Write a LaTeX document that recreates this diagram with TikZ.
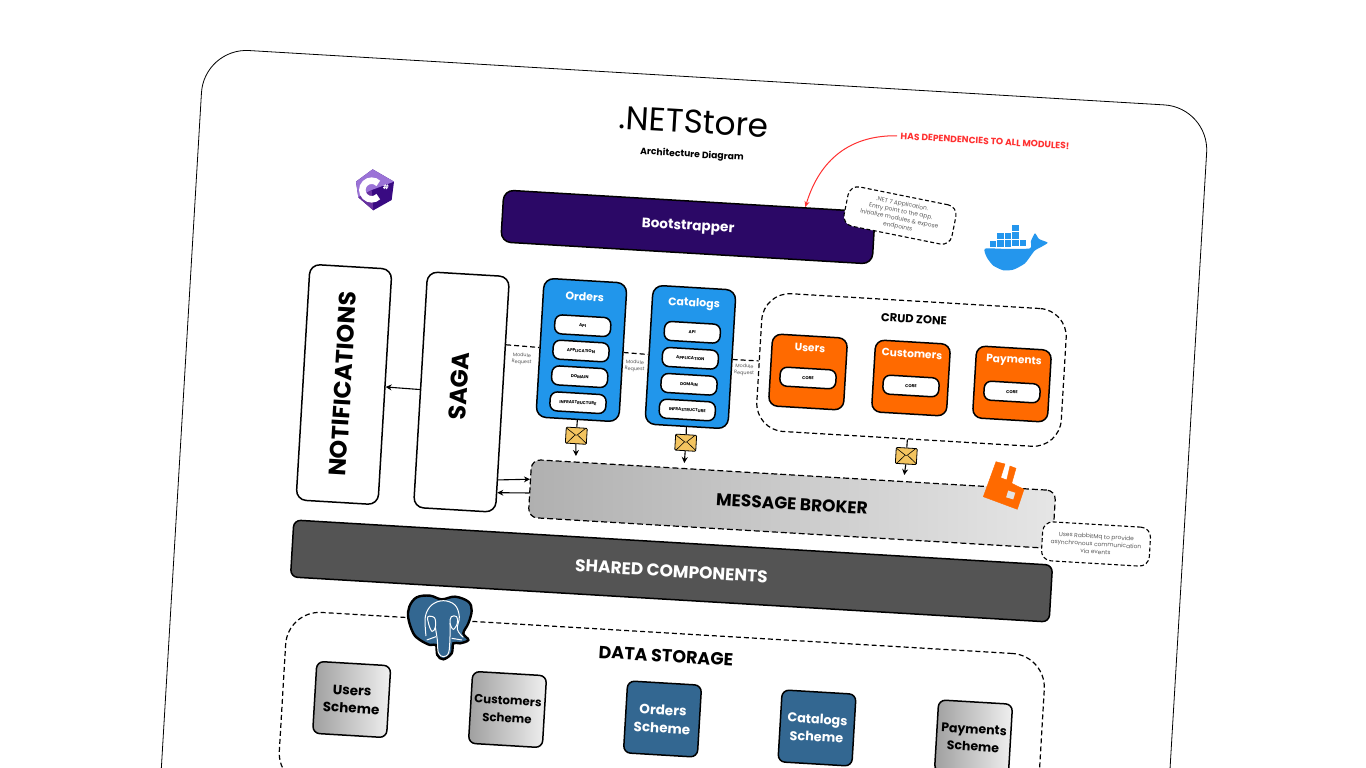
\documentclass[tikz,border=0pt]{standalone}
\usepackage{fontspec}
\setmainfont{Poppins}
\usetikzlibrary{arrows.meta,calc}
\definecolor{bootC}{RGB}{43,8,102}
\definecolor{moduleC}{RGB}{33,150,235}
\definecolor{crudC}{RGB}{255,106,0}
\definecolor{sharedC}{RGB}{84,84,84}
\definecolor{pgC}{RGB}{51,103,145}
\definecolor{mailC}{RGB}{243,196,96}
\definecolor{noteC}{RGB}{90,90,90}
\definecolor{alertC}{RGB}{255,49,49}
\definecolor{dockerC}{RGB}{36,150,237}
\definecolor{csLight}{RGB}{155,115,215}
\definecolor{csMid}{RGB}{104,50,160}
\definecolor{csDark}{RGB}{57,10,130}
\newcommand{\fsz}[2][1.25]{\fontsize{#2pt}{#1\dimexpr#2pt\relax}\selectfont}
\tikzset{
  boxsize/.style 2 args={minimum width=#1pt,minimum height=#2pt,inner sep=0pt},
  solidbox/.style={draw=black,line width=1.5pt,rounded corners=7pt},
  zonebox/.style={draw=black,line width=1.2pt,dash pattern=on 5pt off 3pt,rounded corners=28pt},
  modulebox/.style={solidbox,fill=moduleC,boxsize={83}{139},rounded corners=10pt},
  crudbox/.style={solidbox,fill=crudC,boxsize={75}{72},rounded corners=9pt},
  pillbox/.style={solidbox,fill=white,boxsize={56}{19},font=\fsz{4.2}\bfseries},
  headtext/.style={text=white,font=\fsz{11}\bfseries},
  schemebox/.style={solidbox,boxsize={74}{72},align=center,font={\fsz[1.32]{13.5}\bfseries}},
  grayscheme/.style={schemebox,left color=gray!75,right color=gray!12},
  bluescheme/.style={schemebox,fill=pgC,text=white},
  notebox/.style={draw=black,line width=1.1pt,dash pattern=on 4pt off 2.5pt,fill=white,rounded corners=10pt,
    align=center,text=noteC,font={\fsz[1.3]{5.9}},inner sep=0pt},
  smalltext/.style={align=center,text=noteC,font={\fsz[1.35]{4.9}}},
  mailbox/.style={draw=black,line width=.8pt,fill=mailC,boxsize={21}{16},rounded corners=1pt,
    path picture={
      \draw[line width=.6pt] (path picture bounding box.north west) -- (path picture bounding box.center)
        -- (path picture bounding box.north east);
      \draw[line width=.6pt] (path picture bounding box.south west) -- ($(path picture bounding box.center)+(-1.5,-.5)$);
      \draw[line width=.6pt] (path picture bounding box.south east) -- ($(path picture bounding box.center)+(1.5,-.5)$);
    }},
  request/.style={draw=black,line width=1.2pt,dash pattern=on 5pt off 3pt},
  link/.style={draw=black,line width=1.1pt},
  linkarrow/.style={link,-{Stealth[length=6pt,width=6pt]}}
}

\begin{document}
\begin{tikzpicture}[x=1pt,y=-1pt,every node/.style={rotate=-3.4}]
\useasboundingbox (0,0) rectangle (1366,768);
\clip (0,0) rectangle (1366,768);

% Card
\node[draw=black,line width=.8pt,fill=white,boxsize={1007}{800},rounded corners=45pt] (card) at (683,477) {};

% Title
\node[font=\fsz{32.8}] (title) at (694,122) {.NETStore};
\node[font=\fsz{9.2}\bfseries] (subtitle) at (692,155) {Architecture Diagram};
\node[text=alertC,font=\fsz{9.1}\bfseries] (alert) at (985,141) {HAS DEPENDENCIES TO ALL MODULES!};

% Bootstrapper
\node[solidbox,fill=bootC,boxsize={372}{52},rounded corners=10pt,text=white,font=\fsz{13.6}\bfseries] (bootstrapper) at (688,227) {Bootstrapper};
\draw[alertC,line width=1pt,-{Stealth[length=6pt,width=5pt]}] (alert.west) .. controls (845,135) and (818,165) .. (bootstrapper.13);
\node[notebox,rotate=-8,boxsize={110}{40}] (bootnote) at (900,215.5) {.NET 7 Application.\\Entry point to the app.\\Initialize modules \& expose\\endpoints};

% Notifications and saga
\node[solidbox,fill=white,boxsize={82}{236},rounded corners=10pt] (notifications) at (344,384.5) {};
\node[rotate=90,font=\fsz{23.7}\bfseries] (notificationstext) at (343,384) {NOTIFICATIONS};
\node[solidbox,fill=white,boxsize={82}{236},rounded corners=10pt] (saga) at (461.5,392) {};
\node[rotate=90,font=\fsz{24}\bfseries] (sagatext) at (459,386) {SAGA};
\draw[linkarrow] (saga.west) -- (notifications.east);

% Orders module
\node[modulebox] (orders) at (581.5,350) {};
\node[headtext] (orderstitle) at (584.7,296.7) {Orders};
\foreach \nm/\lbl/\px/\py in {oapi/API/582.7/325.7, oapp/APPLICATION/581/351, odom/DOMAIN/579.7/376.7, oinf/INFRASTRUCTURE/578/402.7} {
  \node[pillbox] (\nm) at (\px,\py) {\lbl};
}

% Catalogs module
\node[modulebox] (catalogs) at (690.5,357) {};
\node[headtext] (catalogstitle) at (694,304) {Catalogs};
\foreach \nm/\lbl/\px/\py in {capi/API/692.3/332.3, capp/APPLICATION/690.3/358.3, cdom/DOMAIN/689/384.3, cinf/INFRASTRUCTURE/687.3/410} {
  \node[pillbox] (\nm) at (\px,\py) {\lbl};
}

% CRUD zone
\node[zonebox,boxsize={305}{138}] (crud) at (911.5,370) {};
\node[font=\fsz{11.5}\bfseries] (crudtitle) at (914,319) {CRUD ZONE};
\foreach \nm/\lbl/\bx/\by/\tx/\ty/\cx/\cy in {users/Users/808/372/810/348/808/378, customers/Customers/911/378/912/354/911/386, payments/Payments/1012/384/1014/361/1012/392} {
  \node[crudbox] (\nm) at (\bx,\by) {};
  \node[headtext,font=\fsz{10.6}\bfseries] (\nm title) at (\tx,\ty) {\lbl};
  \node[pillbox] (\nm core) at (\cx,\cy) {CORE};
}

% Module requests
\draw[request] (saga.50) -- (orders.west);
\draw[request] (orders.east) -- (catalogs.west);
\draw[request] (catalogs.east) -- (crud.west);
\node[smalltext] (requesta) at (521.7,359) {Module\\Request};
\node[smalltext] (requestb) at (634.7,366) {Module\\Request};
\node[smalltext] (requestc) at (744.3,370) {Module\\Request};

% Message broker
\node[draw=black,line width=1.2pt,dash pattern=on 6pt off 3pt,rounded corners=9pt,boxsize={525}{58},
  left color=gray!62,right color=gray!20,font=\fsz{17}\bfseries] (broker) at (792,504) {MESSAGE BROKER};
\draw[crudC!100,fill=crudC] (996,461.7) -- (1005,464) -- (1000.7,477.7) -- (1006.7,480) -- (1010,466) -- (1016,468.3)
  -- (1011.7,483.3) -- (1024,489.3) -- (1017.3,509.3) -- (983.3,496.7) -- cycle;
\fill[gray!22,rotate around={-17:(1010.7,495)}] (1007,491.5) rectangle (1014.4,498.5);
\node[notebox,boxsize={108}{39}] (brokernote) at (1096,544) {Uses RabbitMq to provide\\asynchronous communication\\via events};

% Events
\node[mailbox] (ordersmail) at (576.3,435.7) {};
\node[mailbox] (catalogsmail) at (685.7,442.7) {};
\node[mailbox] (crudmail) at (906.3,456) {};
\coordinate (orderstip) at (576,456);
\coordinate (catalogstip) at (684.3,463);
\coordinate (crudtip) at (904.3,475);
\draw[link] (orders.south) -- (ordersmail.north);
\draw[link] (catalogs.south) -- (catalogsmail.north);
\draw[link] (crud.south) -- (crudmail.north);
\draw[linkarrow] (ordersmail.south) -- (orderstip);
\draw[linkarrow] (catalogsmail.south) -- (catalogstip);
\draw[linkarrow] (crudmail.south) -- (crudtip);
\draw[linkarrow] (saga.-64) -- (broker.178);
\draw[linkarrow] (broker.181) -- (saga.-67);

% Shared components
\node[solidbox,fill=sharedC,boxsize={760}{57},text=white,font=\fsz{17}\bfseries] (shared) at (671.5,571) {SHARED COMPONENTS};

% Data storage
\node[zonebox,rounded corners=34pt,boxsize={760}{175}] (storage) at (661.8,720.3) {};
\node[font=\fsz{17.5}\bfseries] (storagetitle) at (666,656) {DATA STORAGE};
\node[grayscheme] (usersscheme) at (351.7,699.5) {Users\\Scheme};
\node[grayscheme,font={\fsz[1.5]{11.8}\bfseries}] (customersscheme) at (507.5,709.5) {Customers\\Scheme};
\node[bluescheme] (ordersscheme) at (662.5,719) {Orders\\Scheme};
\node[bluescheme,font={\fsz[1.4]{12.8}\bfseries}] (catalogsscheme) at (817,728) {Catalogs\\Scheme};
\node[grayscheme,font={\fsz[1.4]{12.5}\bfseries}] (paymentsscheme) at (973.5,738) {Payments\\Scheme};

% Elephant
\begin{scope}[shift={(400,590)},x=.3333pt,y=-.3333pt]
  \draw[black,line width=2.4pt,fill=pgC] plot[smooth cycle,tension=.6] coordinates {(28,50) (50,22) (90,17) (125,28) (165,20) (205,35) (215,62) (205,100) (190,130) (205,150) (180,160) (160,160) (155,190) (130,208) (112,195) (108,165) (90,165) (60,150) (40,130) (25,85)};
  \draw[white,line width=1pt] plot[smooth,tension=.6] coordinates {(78,138) (76,80) (95,45) (130,32) (165,45) (178,80) (172,118) (190,142)};
  \draw[white,line width=1pt] plot[smooth cycle,tension=.6] coordinates {(84,80) (104,84) (106,112) (96,124) (86,102)};
  \draw[white,line width=1pt] plot[smooth cycle,tension=.6] coordinates {(154,80) (170,80) (172,100) (160,118) (150,100)};
  \draw[white,line width=1pt] plot[smooth,tension=.6] coordinates {(106,112) (112,150) (115,188) (130,200) (146,188) (150,140) (150,100)};
  \draw[white,line width=1pt] (80,150) -- (108,140);
  \draw[white,line width=1pt] (155,145) -- (186,150);
\end{scope}

% Docker whale
\begin{scope}[shift={(975,215)},x=.3333pt,y=-.3333pt]
  \fill[dockerC] plot[smooth cycle,tension=.35] coordinates {(30,101) (100,102) (165,100) (168,78) (180,55) (192,72) (218,83) (200,95) (178,108) (150,145) (115,164) (85,166) (55,152) (36,128)};
  \foreach \bx/\by in {44/77, 67/76, 89/76, 112/75, 135/74, 67/54, 89/54, 112/52, 112/30} {
    \fill[dockerC] (\bx,\by) rectangle ++(19,19);
  }
\end{scope}

% CSharp badge
\begin{scope}[shift={(330,150)},x=.3333pt,y=-.3333pt]
  \fill[csDark] (128,58) -- (192,95) -- (185,150) -- (130,181) -- (85,142) -- (78,95) -- cycle;
  \fill[csLight] (85,142) -- (78,95) -- (128,58) -- (192,95) -- (125,120) -- cycle;
  \fill[csMid] (85,142) -- (130,181) -- (125,120) -- cycle;
  \draw[white,line width=6.5pt] (125,120) ++(45:28) arc[start angle=45,end angle=315,radius=28];
  \node[text=white,font=\fsz{6.5}\bfseries,inner sep=0pt] (csharpmark) at (168,112) {\#};
\end{scope}
\end{tikzpicture}
\end{document}
